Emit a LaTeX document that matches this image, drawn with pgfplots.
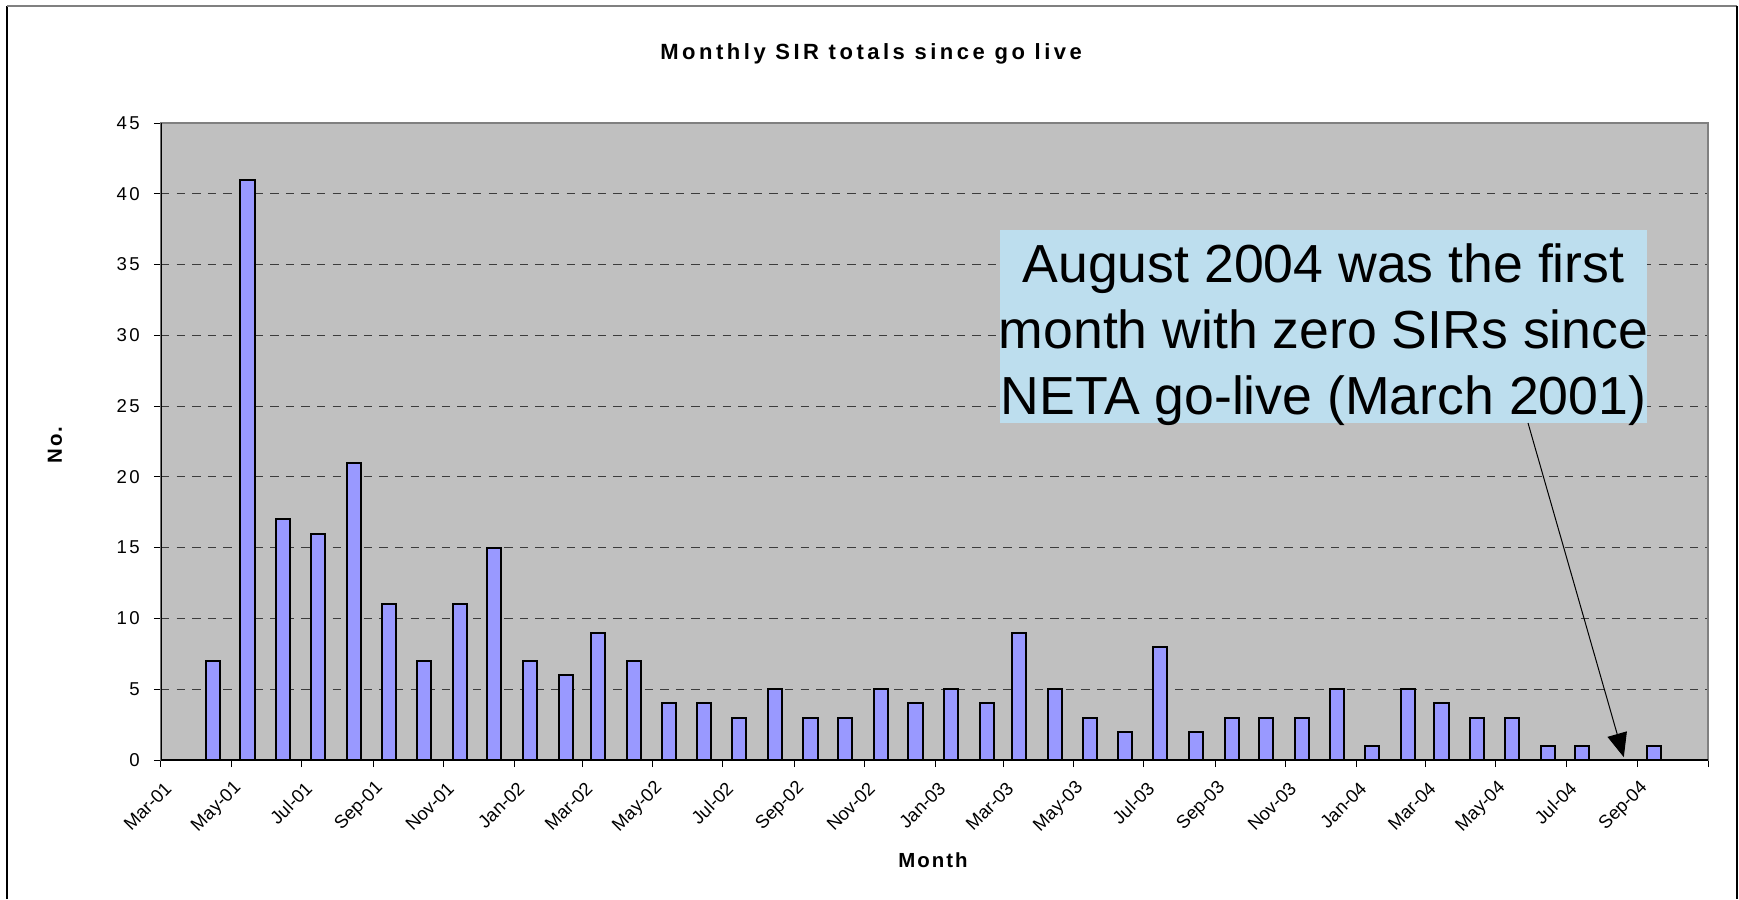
\documentclass[border=0pt]{standalone}
\usepackage{fontspec}
\setmainfont{Liberation Sans}
\usepackage{pgfplots}
\pgfplotsset{compat=1.18}
\usetikzlibrary{arrows.meta}
\definecolor{bggray}{RGB}{192,192,192}
\definecolor{barblue}{RGB}{153,153,255}
\definecolor{boxblue}{RGB}{189,222,238}
\definecolor{gridc}{RGB}{60,60,60}
\definecolor{framegray}{RGB}{128,128,128}
\begin{document}
\begin{tikzpicture}
\path[use as bounding box] (-80.5pt,-69.5pt) rectangle (789pt,380pt);
\fill[white] (-80.5pt,-69.5pt) rectangle (789pt,380pt);
\draw[black, line width=0.6pt] (-77pt,-69.5pt) -- (-77pt,377pt);
\draw[framegray, line width=0.6pt] (-77pt,377pt) -- (788pt,377pt);
\draw[black, line width=0.6pt] (788pt,377pt) -- (788pt,-69.5pt);
\begin{axis}[
  at={(0pt,0pt)}, anchor=south west, scale only axis,
  width=773.5pt, height=318.5pt,
  xmin=0, xmax=1341, ymin=0, ymax=45,
  xtick={0,61,122,184,245,306,365,426,487,549,610,671,730,791,852,914,975,1036,1096,1157,1218,1280,1341},
  xticklabels={Mar-01,May-01,Jul-01,Sep-01,Nov-01,Jan-02,Mar-02,May-02,Jul-02,Sep-02,Nov-02,Jan-03,Mar-03,May-03,Jul-03,Sep-03,Nov-03,Jan-04,Mar-04,May-04,Jul-04,Sep-04,{}},
  ytick={0,5,...,45},
  axis background/.style={fill=bggray},
  axis line style={draw=framegray, line width=0.6pt},
  tick align=outside, xtick pos=bottom, ytick pos=left,
  major tick length=3.5pt,
  tick style={black, line width=0.5pt},
  ymajorgrids,
  grid style={gridc, line width=0.5pt, dash pattern=on 4.2pt off 3.6pt},
  /pgf/number format/assume math mode=true,
  ticklabel style={font=\fontsize{9.2}{10}\selectfont},
  yticklabel style={inner xsep=7pt, font=\fontsize{9.3}{10}\selectfont\addfontfeature{LetterSpace=12}},
  xticklabel style={rotate=45, anchor=east, yshift=-9pt, xshift=-0.5pt},
  title={Monthly SIR totals since go live},
  title style={at={(axis description cs:0.459,1.0904)}, anchor=center, yshift=0pt, font=\fontsize{11}{12}\selectfont\bfseries\addfontfeature{LetterSpace=16}},
  xlabel={Month},
  xlabel style={at={(axis description cs:0.499,-0.157)}, anchor=center, font=\fontsize{10.2}{12}\selectfont\bfseries\addfontfeature{LetterSpace=10}},
  ylabel={No.},
  ylabel style={at={(axis description cs:-0.0685,0.4945)}, anchor=center, font=\fontsize{10.2}{12}\selectfont\bfseries\addfontfeature{LetterSpace=10}},
]
\addplot[ybar, bar width=12.2, fill=barblue, draw=black, line width=1pt] table {
x y
45 7
75 41
106 17
136 16
167 21
198 11
228 7
259 11
289 15
320 7
351 6
379 9
410 7
440 4
471 4
501 3
532 5
563 3
593 3
624 5
654 4
685 5
716 4
744 9
775 5
805 3
836 2
866 8
897 2
928 3
958 3
989 3
1019 5
1050 1
1081 5
1110 4
1141 3
1171 3
1202 1
1232 1
1263 0
1294 1
};
\node[fill=boxblue, minimum width=323.5pt, minimum height=96.5pt, inner sep=0pt] at (axis cs:1007.7,30.62) {};
\node[inner sep=0pt, align=center, font=\fontsize{26.8}{32.8}\selectfont, yshift=-4pt] at (axis cs:1007.7,30.62) {August 2004 was the first\\month with zero SIRs since\\NETA go-live (March 2001)};
\draw[-{Triangle[length=12pt,width=10pt]}, line width=0.5pt] (axis cs:1185,23.8) -- (axis cs:1268,0.2);
\draw[black, line width=0.6pt] (rel axis cs:0,1) -- (rel axis cs:0,0) -- (rel axis cs:1,0);
\end{axis}
\end{tikzpicture}
\end{document}
